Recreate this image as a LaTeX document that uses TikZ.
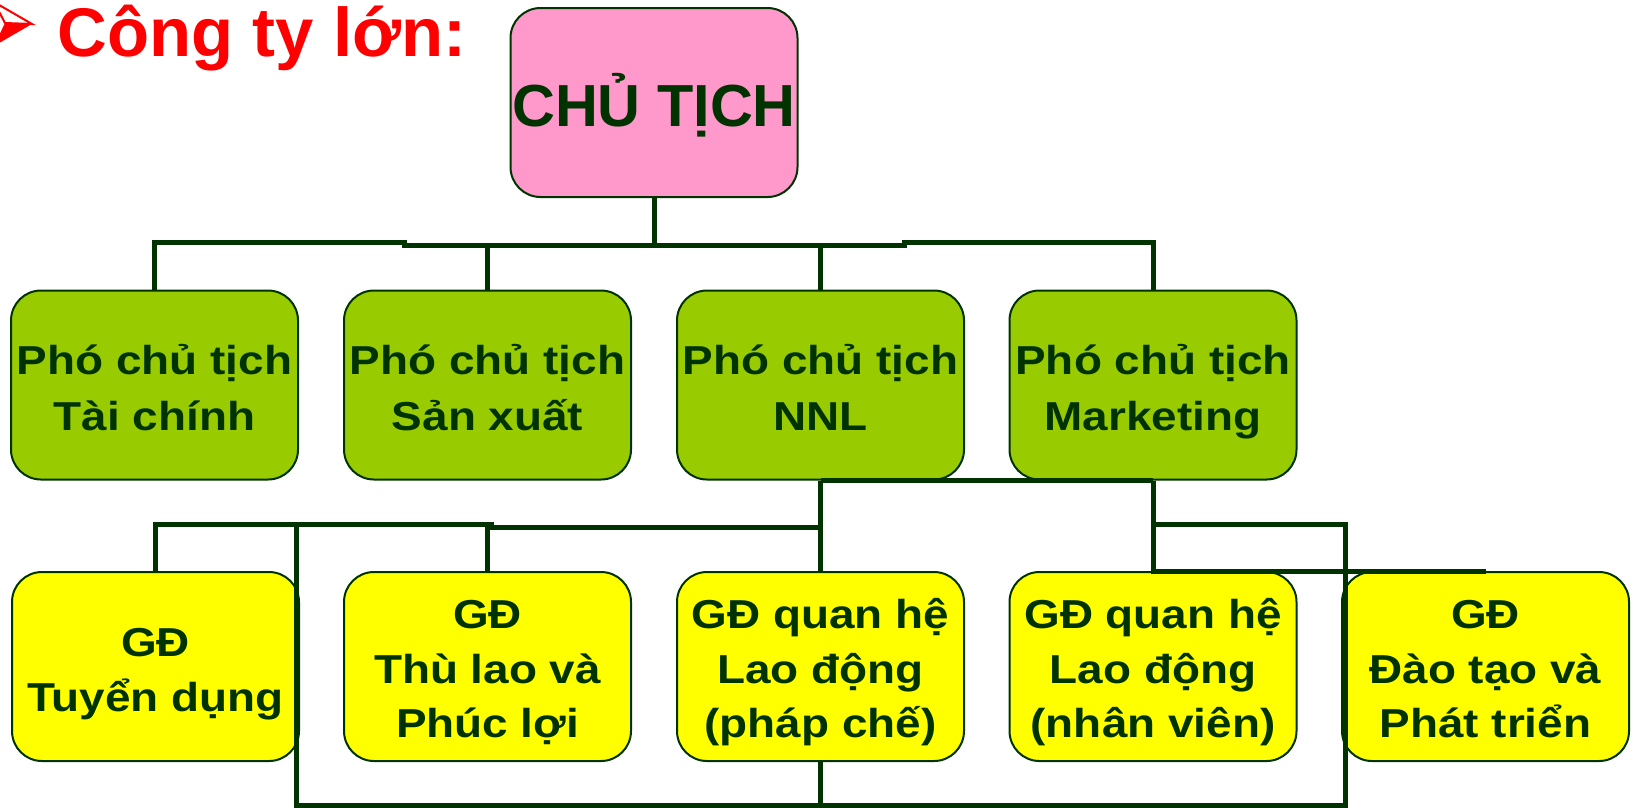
\documentclass[tikz,border=0pt]{standalone}
\usepackage{fontspec}
\setmainfont{Liberation Sans}
\newfontfamily\boxfont[FakeStretch = 1.135]{Liberation Sans}

% Colours of the chart.
\definecolor{boxline}{HTML}{003300}
\definecolor{chairpink}{HTML}{FF99CC}
\definecolor{vpgreen}{HTML}{99CC00}
\definecolor{gdyellow}{HTML}{FFFF00}
\definecolor{titlered}{HTML}{FF0000}

\tikzset{
    unit/.style = {
        draw = boxline,
        line width = 0.2mm,
        rounded corners = 3mm,
        minimum width = 28.7mm,
        minimum height = 18.9mm,
        inner sep = 0pt,
        align = center,
        text = boxline,
        text depth = 0pt
    },
    chairbox/.style = {unit, fill = chairpink, text height = 4.84mm,
        font = \fontsize{16.9}{20}\selectfont\bfseries},
    vpbox/.style = {unit, fill = vpgreen, text height = 9.06mm,
        font = \boxfont\fontsize{11.5}{15.9}\selectfont\bfseries},
    gdbox/.style = {unit, fill = gdyellow, text height = 14.24mm,
        font = \boxfont\fontsize{11.5}{15.5}\selectfont\bfseries},
    link/.style = {draw = boxline, line width = 0.5mm}
}

\begin{document}
\begin{tikzpicture}[%
        x = 0.1mm,
        y = -0.1mm
    ]

        % Page frame, in pixels of the slide.
        \useasboundingbox (0, 0) rectangle (1633, 807);

        % Title with its arrow bullet.
        \filldraw[fill = white, draw = titlered, line width = 0.2mm]
            (-6, 2) -- (32, 24) -- (5, 23) -- cycle;
        \fill[titlered] (5, 23) -- (32, 24) -- (-6, 46) -- cycle;
        \node[anchor = base west, inner sep = 0pt, text = titlered,
            font = \fontsize{19.6}{23}\selectfont\bfseries]
            (title) at (57, 56.7) {Công ty lớn:};

        % Chairman.
        \node[chairbox] (chair) at (654, 102.5) {CHỦ TỊCH};

        % Vice chairmen.
        \node[vpbox] (vpfin) at (154.5, 385) {Phó chủ tịch\\Tài chính};
        \node[vpbox] (vpprod) at (487.5, 385) {Phó chủ tịch\\Sản xuất};
        \node[vpbox] (vphr) at (820.5, 385) {Phó chủ tịch\\NNL};
        \node[vpbox] (vpmkt) at (1153, 385) {Phó chủ tịch\\Marketing};

        % Directors.
        \node[gdbox, text height = 8.9mm] (gdrecruit) at (155.5, 666.5) {GĐ\\Tuyển dụng};
        \node[gdbox] (gdbenefit) at (487.5, 666.5) {GĐ\\Thù lao và\\Phúc lợi};
        \node[gdbox] (gdrel) at (820.5, 666.5) {GĐ quan hệ\\Lao động\\(pháp chế)};
        \node[gdbox] (gdstaff) at (1153, 666.5) {GĐ quan hệ\\Lao động\\(nhân viên)};
        \node[gdbox] (gdtrain) at (1485.5, 666.5) {GĐ\\Đào tạo và\\Phát triển};

        % Junction points.
        \coordinate (topbus) at (654, 245);
        \coordinate (hrbus) at (820.5, 527);
        \coordinate (loopL) at (296, 524.5);
        \coordinate (loopR) at (1345, 524.5);
        \coordinate (bottombus) at (820.5, 805);

        % Chairman to vice chairmen.
        \draw[link] (chair.south) -- (topbus);
        \draw[link] (vpfin.north) |- (404, 242) -- (404, 245) -- (topbus);
        \draw[link] (vpprod.north) |- (topbus);
        \draw[link] (vphr.north) |- (topbus);
        \draw[link] (vpmkt.north) |- (904, 242) -- (904, 245) -- (topbus);

        % HR vice chairman to directors.
        \draw[link] (vphr.south) -- (gdrel.north);
        \draw[link] (hrbus) -| (gdbenefit.north);
        \draw[link] (hrbus) -- (491, 527) -- (491, 524.5) -| (gdrecruit.north);
        \draw[link] (vphr.south) -- (vpmkt.south);

        % Marketing vice chairman to directors.
        \draw[link] (vpmkt.south) -- (gdstaff.north);
        \draw[link] (vpmkt.south) |- (gdtrain.north);

        % Outer loop along the bottom.
        \draw[link] (vpmkt.south) |- (loopR) -- (1345, 805) -| (loopL);
        \draw[link] (gdrel.south) -- (bottombus);
    \end{tikzpicture}
\end{document}
